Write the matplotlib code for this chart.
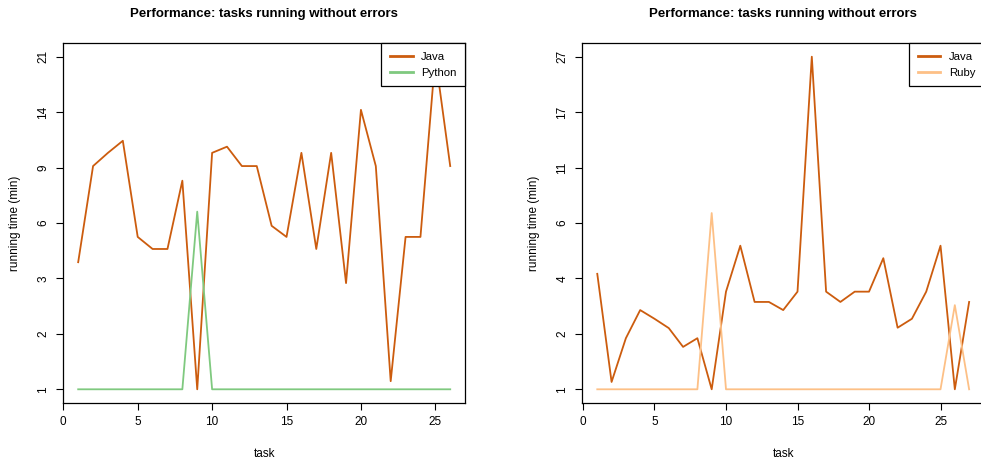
import numpy as np
import matplotlib
matplotlib.use("Agg")
import matplotlib.pyplot as plt

plt.rcParams['font.family'] = ['Liberation Sans', 'DejaVu Sans']

# running times (min), one value per task
java_left = [4, 9, 10, 11, 5, 4.5, 4.5, 8, 1, 10, 10.5, 9, 9, 5.5, 5, 10,
             4.5, 10, 3.3, 14, 9, 1.12, 5, 5, 21, 9]
python_left = [1, 1, 1, 1, 1, 1, 1, 1, 6.2, 1, 1, 1, 1, 1, 1, 1,
               1, 1, 1, 1, 1, 1, 1, 1, 1, 1]
java_right = [4, 1.12, 2, 2.75, 2.5, 2.25, 1.8, 2, 1, 3.34, 5.25, 3, 3, 2.75,
              3.34, 27, 3.34, 3, 3.34, 3.34, 4.66, 2.26, 2.5, 3.34, 5.25, 1, 3]
ruby_right = [1, 1, 1, 1, 1, 1, 1, 1, 7.1, 1, 1, 1, 1, 1, 1, 1, 1, 1, 1, 1,
              1, 1, 1, 1, 1, 2.9, 1]

java_col = "#CC5C0E"
python_col = "#7FC97F"
ruby_col = "#FDC086"

W, H = 981, 461
fig = plt.figure(figsize=(W / 100, H / 100), dpi=100)


def panel(left, right, series, names, cols):
    ax = fig.add_axes([left / W, 1 - 402.6 / H, (right - left) / W, (402.6 - 43.4) / H])
    allv = np.concatenate([np.asarray(s, float) for s in series])
    n = max(len(s) for s in series)
    for s, name, c in zip(series, names, cols):
        x = np.arange(1, len(s) + 1)
        ax.plot(x, np.log1p(s), color=c, lw=1.3, label=name)
    lo, hi = np.log1p(allv.min()), np.log1p(allv.max())
    pad = 0.04 * (hi - lo)
    ax.set_ylim(lo - pad, hi + pad)
    ax.set_xlim(1 - 0.04 * (n - 1), n + 0.04 * (n - 1))
    ticks = np.linspace(lo, hi, 7)
    ax.set_yticks(ticks)
    ax.set_yticklabels([str(int(round(v))) for v in np.expm1(ticks)],
                       rotation=90, va='center')
    ax.set_xticks([0, 5, 10, 15, 20, 25])
    ax.tick_params(direction='out', length=5, width=0.8, labelsize=8.5, pad=5)
    for sp in ax.spines.values():
        sp.set_linewidth(0.9)
    ax.set_xlabel("task", fontsize=8.5, labelpad=14)
    ax.set_ylabel("running time (min)", fontsize=8.5, labelpad=12)
    ax.set_title("Performance: tasks running without errors", fontsize=9.5,
                 fontweight='bold', pad=19)
    leg = ax.legend(loc='upper right', fontsize=8.2, frameon=True, fancybox=False,
                    framealpha=1, borderaxespad=0, handlelength=2.0,
                    handletextpad=0.75, borderpad=0.75, labelspacing=0.5)
    leg.get_frame().set_edgecolor('black')
    leg.get_frame().set_linewidth(0.9)
    for h in leg.get_lines():
        h.set_linewidth(2)
    return ax


panel(63.3, 465.1, [java_left, python_left], ["Java", "Python"], [java_col, python_col])
panel(582.4, 984, [java_right, ruby_right], ["Java", "Ruby"], [java_col, ruby_col])

fig.savefig("out.png", dpi=100)
